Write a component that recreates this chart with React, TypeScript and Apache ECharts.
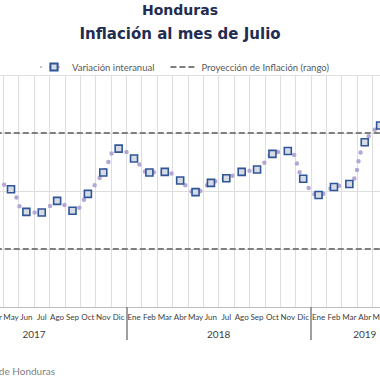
import React, { useEffect, useRef } from "react";
import * as echarts from "echarts";

const monthLabels = [
  "Ene", "Feb", "Mar", "Abr", "May", "Jun", "Jul", "Ago", "Sep", "Oct", "Nov", "Dic",
  "Ene", "Feb", "Mar", "Abr", "May", "Jun", "Jul", "Ago", "Sep", "Oct", "Nov", "Dic",
  "Ene", "Feb", "Mar", "Abr", "May", "Jun", "Jul",
];
const yearLabels = ["2017", "2018", "2019"];
const yearMonthCounts = [12, 12, 7];
const inflation: (number | null)[] = [
  null, null, null, 4.15, 4.03, 3.64, 3.63, 3.83, 3.66, 3.95, 4.32, 4.73,
  4.56, 4.32, 4.33, 4.18, 3.98, 4.14, 4.22, 4.33, 4.37, 4.64, 4.69, 4.21,
  3.93, 4.07, 4.12, 4.84, 5.13, null, null,
];
const projectionRange = [5, 3];
const yMin = 2;
const yMax = 6;
const yInterval = 1;

const FONT = "Lato, 'DejaVu Sans', sans-serif";
const TITLE_FONT = "'DejaVu Sans', sans-serif";

export default function App() {
  const ref = useRef<HTMLDivElement>(null);
  useEffect(() => {
    document.body.style.margin = "0";
    if (!ref.current) return;
    const chart = echarts.init(ref.current, undefined, { renderer: "svg" });

    const boundaries: number[] = [];
    const centers: number[] = [];
    let acc = 0;
    yearMonthCounts.forEach((c) => {
      centers.push(acc + c / 2);
      acc += c;
      boundaries.push(acc);
    });
    const total = monthLabels.length;

    chart.setOption({
      animation: false,
      textStyle: { fontFamily: FONT },
      graphic: [
        {
          type: "text",
          x: 180,
          y: 3,
          style: {
            text: "Honduras",
            fontFamily: TITLE_FONT,
            fontWeight: "bold",
            fontSize: 14,
            fill: "#1f2d50",
            textAlign: "center",
          },
        },
        {
          type: "text",
          x: 180,
          y: 26,
          style: {
            text: "Inflación al mes de Julio",
            fontFamily: TITLE_FONT,
            fontWeight: "bold",
            fontSize: 15,
            fill: "#1f2d50",
            textAlign: "center",
          },
        },
        {
          type: "text",
          x: 55,
          y: 366,
          style: {
            text: "Fuente: Banco Central de Honduras",
            fontFamily: FONT,
            fontSize: 10,
            fill: "#808080",
            textAlign: "right",
          },
        },
      ],
      legend: {
        top: 57,
        left: 35,
        itemWidth: 26,
        itemHeight: 9,
        itemGap: 15,
        textStyle: { color: "#595959", fontSize: 9.5, fontFamily: FONT },
        data: [
          { name: "Variación interanual" },
          { name: "Proyección de Inflación (rango)", itemStyle: { opacity: 0 } },
        ],
      },
      grid: {
        left: 3.3 - 4 * 15.38,
        width: total * 15.38,
        top: 75,
        bottom: 73,
        containLabel: false,
        outerBoundsMode: "none",
      },
      xAxis: [
        {
          type: "category",
          data: monthLabels,
          boundaryGap: true,
          axisLine: { lineStyle: { color: "#bfbfbf", width: 1 } },
          axisTick: { show: false },
          axisLabel: {
            interval: 0,
            fontSize: 8,
            color: "#404040",
            margin: 6,
            fontFamily: FONT,
          },
          splitLine: { show: true, lineStyle: { color: "#dedede", width: 1 } },
        },
        {
          type: "value",
          min: 0,
          max: total,
          position: "bottom",
          axisLine: { show: false },
          splitLine: { show: false },
          axisTick: {
            show: true,
            customValues: boundaries,
            length: 33,
            lineStyle: { color: "#7f7f7f", width: 1.5 },
          },
          axisLabel: {
            customValues: centers,
            margin: 22,
            fontSize: 10,
            color: "#404040",
            fontFamily: FONT,
            formatter: (v: number) => {
              const i = centers.findIndex((c) => Math.abs(c - v) < 1e-6);
              return i >= 0 ? yearLabels[i] : "";
            },
          },
        },
      ],
      yAxis: {
        type: "value",
        min: yMin,
        max: yMax,
        interval: yInterval,
        axisLabel: { show: false },
        axisLine: { show: false },
        axisTick: { show: false },
        splitLine: { lineStyle: { color: "#dedede", width: 1 } },
      },
      series: [
        {
          name: "Variación interanual",
          type: "line",
          data: inflation,
          smooth: 0.5,
          symbol: "rect",
          symbolSize: 7,
          showSymbol: true,
          itemStyle: { color: "#d6dbe4", borderColor: "#2f5597", borderWidth: 1.6 },
          lineStyle: { color: "#b4a7d6", width: 4.5, type: [0, 9], cap: "round" },
          z: 3,
        },
        {
          name: "Proyección de Inflación (rango)",
          type: "line",
          data: [],
          symbol: "none",
          itemStyle: { color: "#7f7f7f" },
          lineStyle: { color: "#7f7f7f", width: 2.2, type: [6, 3] },
          markLine: {
            silent: true,
            symbol: "none",
            label: { show: false },
            lineStyle: { color: "#7f7f7f", width: 2.2, type: [6, 3] },
            data: projectionRange.map((v) => ({ yAxis: v })),
          },
          z: 2,
        },
      ],
    });
    return () => chart.dispose();
  }, []);
  return <div ref={ref} style={{ width: 380, height: 380 }} />;
}
